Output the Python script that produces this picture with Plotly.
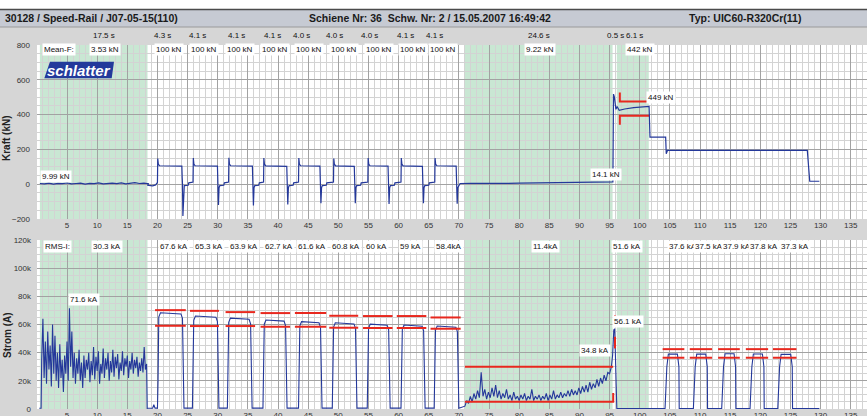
import plotly.graph_objects as go
import numpy as np

# ---------------- data ----------------
# Force trace (kN)
F_G1_START, F_G1_STEP = 0.5, 0.75
F_G1_VAL = [4, 2, 6, 1, 5, 3, 7, 2, 4, 6, 1, 5, 3, 8, 2, 4, 6, 3, 7, 2, 5, 9, 4, 6, 3]
F_RISE = [20.0, 25.9, 31.8, 37.6, 43.4, 49.2, 54.9, 60.4, 66.0]
F_FALL = [24.1, 30.0, 35.8, 41.5, 47.0, 52.7, 58.3, 64.0, 69.6]
F_HOLD = [104, 104, 104, 103, 104, 103, 104, 103, 104]
F_PEAK = [147, 150, 152, 150, 150, 148, 150, 150, 150]
F_DIP = [-183, -120, -123, -116, -110, -110, -114, -110, -112]
F_G2_T = [70.2, 72, 74, 76, 78, 80, 82, 84, 86, 88, 90, 92, 94, 95.45]
F_G2_V = [4, 5, 4, 6, 5, 6, 7, 6, 8, 9, 10, 11, 12, 13]
F_END_T = [95.55, 95.65, 95.8, 96.05, 96.25, 96.6, 97.5, 99.0, 101.55, 101.7, 104.3, 104.4, 104.6, 127.8, 128.0, 128.2, 129.8]
F_END_V = [13, 518, 500, 430, 446, 424, 432, 440, 447, 270, 270, 175, 194, 194, 100, 17, 17]
F_RED_X = [96.7, 101.7]
F_RED_HI, F_RED_LO = 476, 394
F_RED_TICK_HI, F_RED_TICK_LO = 527, 341

# Current trace (kA)
I_G1_START, I_G1_STEP = 0.8, 0.2
I_G1_VAL = [35, 64, 22, 48, 18, 55, 28, 45, 16, 60, 25, 52, 20, 40, 15, 46, 22, 35, 12, 38,
            25, 48, 20, 71.6, 30, 55, 22, 40, 18, 36, 25, 42, 20, 33, 15, 38, 22, 35, 28, 40,
            19, 34, 24, 44, 21, 37, 27, 41, 18, 32, 25, 43, 22, 36, 28, 40, 20, 34, 26, 42,
            23, 37, 29, 39, 21, 33, 27, 41, 24, 36, 30, 38, 22, 34, 28, 40, 25, 35, 29, 37,
            23, 33, 27, 36, 26, 44, 28, 32]
I_PULSE_ON = [20.1, 25.9, 31.7, 37.6, 43.5, 49.1, 54.9, 60.5, 66.0]
I_PULSE_OFF = [24.3, 30.1, 35.6, 41.4, 47.2, 53.0, 58.5, 64.3, 69.9]
I_PULSE_LVL = [68.3, 66.0, 64.5, 63.2, 62.0, 61.2, 60.3, 59.6, 58.9]
I_RED_X0 = [19.6, 25.4, 31.3, 37.1, 42.8, 48.5, 54.1, 59.7, 65.3]
I_RED_X1 = [24.7, 30.2, 36.2, 42.0, 48.0, 53.3, 59.0, 64.6, 70.3]
I_RED_HI = [70.2, 69.7, 68.8, 68.1, 68.1, 66.2, 66.0, 66.0, 65.0]
I_RED_LO = [59.1, 58.9, 58.9, 58.4, 58.4, 57.7, 57.5, 57.5, 57.0]
I_G2_START, I_G2_STEP = 71.0, 0.3
I_G2_VAL = [2, 6, 4, 9, 5, 11, 7, 13, 8, 26, 9, 14, 7, 12, 8, 15, 9, 17, 8, 13,
            7, 11, 8, 14, 7, 10, 6, 12, 7, 9, 6, 10, 7, 11, 6, 9, 7, 14, 6, 9,
            7, 10, 6, 9, 7, 11, 6, 10, 7, 13, 7, 10, 8, 12, 8, 11, 9, 13, 9, 14,
            10, 13, 10, 15, 11, 16, 12, 17, 12, 19, 14, 18, 15, 21, 16, 22, 18, 24,
            20, 26, 25, 30]
I_SPIKE_T = [95.5, 95.7, 95.85, 96.0, 96.2]
I_SPIKE_V = [38, 56.1, 57, 30, 0.4]
I_P2_ON = [104.5, 109.2, 113.9, 118.6, 123.2]
I_P2_OFF = [106.5, 111.2, 115.9, 120.6, 125.3]
I_P2_LVL = [39.0, 39.0, 39.2, 39.1, 38.8]
I_P2_RED_X0 = [103.8, 108.3, 113.0, 117.6, 122.1]
I_P2_RED_X1 = [107.4, 112.0, 116.6, 121.3, 126.0]
I_P2_RED_HI, I_P2_RED_LO = 42.5, 36.4
I_G2_RED_X = [71.0, 95.6]
I_G2_RED_HI, I_G2_RED_LO, I_G2_RED_TICK = 30.0, 5.2, 11.3
I_SP_RED_X = 95.9
I_SP_RED_SEG = [(60.3, 66.7), (43.0, 51.3)]
I_END_T = 129.8

GREEN_ZONES = [(0.5, 18.35), (71.0, 95.5), (96.2, 101.5)]

TIME_LBL_X = [11.1, 20.8, 26.7, 33.1, 39.1, 43.9, 49.4, 55.2, 61.2, 66.0, 83.3, 96.0, 99.2]
TIME_LBL = ["17.5 s", "4.3 s", "4.1 s", "4.1 s", "4.1 s", "4.0 s", "4.0 s", "4.0 s", "4.1 s", "4.1 s", "24.6 s", "0.5 s", "6.1 s"]
MEANF_X = [11.3, 21.9, 27.8, 33.7, 39.5, 45.2, 50.9, 56.7, 62.4, 67.4, 83.4, 100.1]
MEANF_LBL = ["3.53 kN"] + ["100 kN"] * 9 + ["9.22 kN", "442 kN"]
RMS_X = [11.6, 22.7, 28.5, 34.3, 40.2, 45.6, 51.3, 56.4, 61.9, 68.4, 84.3, 97.9, 107.1, 111.5, 116.2, 120.6, 125.7]
RMS_LBL = ["30.3 kA", "67.6 kA", "65.3 kA", "63.9 kA", "62.7 kA", "61.6 kA", "60.8 kA", "60 kA", "59 kA",
           "58.4kA", "11.4kA", "51.6 kA", "37.6 kA", "37.5 kA", "37.9 kA", "37.8 kA", "37.3 kA"]

# ---------------- styling ----------------
W, H = 867, 416
FONT = "Liberation Sans"
BLUE = "#24389a"
RED = "#e8281e"
GREEN = "#c9e7d3"
PAPER = "#d6d6d6"

def px(x):
    return x / W

def py(y):
    return 1 - y / H

# ---------------- build force line ----------------
fx = [F_G1_START + i * F_G1_STEP for i in range(len(F_G1_VAL))]
fy = list(F_G1_VAL)
fx += [18.4, 19.2, 19.7, 19.95]
fy += [-6, -9, -4, 8]
for i, (r, f) in enumerate(zip(F_RISE, F_FALL)):
    nxt = F_RISE[i + 1] if i + 1 < len(F_RISE) else None
    fx += [r, r + 0.05, r + 0.15, r + 0.35, f - 0.05, f, f + 0.05, f + 0.12, f + 0.22, f + 0.35]
    fy += [10, F_PEAK[i], 115, F_HOLD[i] + 2, F_HOLD[i], 40, 5, F_DIP[i], -20, -8]
    if nxt is not None:
        fx += [f + 1.0, f + 1.1, nxt - 0.05]
        fy += [-6, 8, 12]
fx += F_G2_T + F_END_T
fy += F_G2_V + F_END_V

f_rx = [F_RED_X[0], F_RED_X[0], F_RED_X[1], None, F_RED_X[0], F_RED_X[0], F_RED_X[1]]
f_ry = [F_RED_TICK_HI, F_RED_HI, F_RED_HI, None, F_RED_TICK_LO, F_RED_LO, F_RED_LO]

# ---------------- build current line (kA) ----------------
ix = [0.4, 0.7]
iy = [0.5, 0.5]
ix += [I_G1_START + i * I_G1_STEP for i in range(len(I_G1_VAL))]
iy += list(I_G1_VAL)
ix += [18.3, 18.4, 19.2, 19.4, 19.6]
iy += [0.4, 0.5, 0.6, 3.0, 0.6]
for on, off, lv in zip(I_PULSE_ON, I_PULSE_OFF, I_PULSE_LVL):
    ix += [on - 0.1, on, on + 0.12, on + 0.4, (on + off) / 2, off - 0.4, off - 0.15, off, off + 0.1]
    iy += [0.6, 20, lv - 3, lv, lv - 0.3, lv - 0.8, lv - 4, 20, 0.6]
ix += [I_G2_START + i * I_G2_STEP for i in range(len(I_G2_VAL))]
iy += list(I_G2_VAL)
ix += I_SPIKE_T
iy += I_SPIKE_V
for on, off, lv in zip(I_P2_ON, I_P2_OFF, I_P2_LVL):
    ix += [on - 0.3, on, on + 0.25, off - 0.25, off, off + 0.05]
    iy += [0.4, 30, lv, lv, 30, 0.4]
ix += [I_END_T]
iy += [0.4]
iy = [v * 1000 if v is not None else None for v in iy]

i_rx, i_ry = [], []
for x0, x1, hi, lo in zip(I_RED_X0, I_RED_X1, I_RED_HI, I_RED_LO):
    i_rx += [x0, x1, None, x0, x1, None]
    i_ry += [hi, hi, None, lo, lo, None]
for x0, x1 in zip(I_P2_RED_X0, I_P2_RED_X1):
    i_rx += [x0, x1, None, x0, x1, None]
    i_ry += [I_P2_RED_HI, I_P2_RED_HI, None, I_P2_RED_LO, I_P2_RED_LO, None]
i_rx += [I_G2_RED_X[0], I_G2_RED_X[1], None, I_G2_RED_X[0], I_G2_RED_X[1], I_G2_RED_X[1], None]
i_ry += [I_G2_RED_HI, I_G2_RED_HI, None, I_G2_RED_LO, I_G2_RED_LO, I_G2_RED_TICK, None]
for a, b in I_SP_RED_SEG:
    i_rx += [I_SP_RED_X, I_SP_RED_X, None]
    i_ry += [a, b, None]
i_ry = [v * 1000 if v is not None else None for v in i_ry]

# ---------------- figure ----------------
fig = go.Figure()
fig.add_trace(go.Scatter(x=f_rx, y=f_ry, mode="lines", line=dict(color=RED, width=2),
                         xaxis="x", yaxis="y", hoverinfo="skip", showlegend=False))
fig.add_trace(go.Scatter(x=fx, y=fy, mode="lines", line=dict(color=BLUE, width=1.2),
                         xaxis="x", yaxis="y", hoverinfo="skip", showlegend=False))
fig.add_trace(go.Scatter(x=ix, y=iy, mode="lines", line=dict(color=BLUE, width=1.1),
                         xaxis="x2", yaxis="y2", hoverinfo="skip", showlegend=False))
fig.add_trace(go.Scatter(x=i_rx, y=i_ry, mode="lines", line=dict(color=RED, width=2),
                         xaxis="x2", yaxis="y2", hoverinfo="skip", showlegend=False))

tickfont = dict(size=8, color="#333333", family=FONT)
xcommon = dict(domain=[px(37), 1], range=[0.02, 137.7], tickmode="linear", tick0=0, dtick=5,
               showgrid=True, gridcolor="#a2a2a2", gridwidth=1,
               minor=dict(tick0=0, dtick=1, showgrid=True, gridcolor="#d3d3d3", gridwidth=1),
               zeroline=False, showline=False, ticks="", tickfont=tickfont, fixedrange=True,
               automargin=False)

fig.update_layout(
    width=W, height=H,
    margin=dict(l=0, r=0, t=0, b=0, autoexpand=False),
    paper_bgcolor=PAPER, plot_bgcolor="white",
    font=dict(family=FONT, size=8, color="#222"),
    xaxis=dict(xcommon, anchor="y"),
    xaxis2=dict(xcommon, anchor="y2"),
    yaxis=dict(domain=[py(219), py(45)], range=[-200, 800], tickmode="linear", tick0=0, dtick=200,
               showgrid=True, gridcolor="#a2a2a2", gridwidth=1,
               minor=dict(tick0=0, dtick=50, showgrid=True, gridcolor="#d3d3d3", gridwidth=1),
               zeroline=False, showline=False, ticks="", tickfont=tickfont, anchor="x",
               ticklabelstandoff=6, automargin=False),
    yaxis2=dict(domain=[py(409), py(240)], range=[0, 120000], tickmode="linear", tick0=0, dtick=20000,
                tickformat="~s",
                showgrid=True, gridcolor="#a2a2a2", gridwidth=1,
                minor=dict(tick0=0, dtick=5000, showgrid=True, gridcolor="#d3d3d3", gridwidth=1),
                zeroline=False, showline=False, ticks="", tickfont=tickfont, anchor="x2",
                ticklabelstandoff=5, automargin=False),
)

shapes = []
for x0, x1 in GREEN_ZONES:
    shapes.append(dict(type="rect", xref="x", yref="y domain", x0=x0, x1=x1, y0=0, y1=1,
                       fillcolor=GREEN, line=dict(width=0), layer="below"))
    shapes.append(dict(type="rect", xref="x2", yref="y2 domain", x0=x0, x1=x1, y0=0, y1=1,
                       fillcolor=GREEN, line=dict(width=0), layer="below"))
# white strip and title bar
shapes.append(dict(type="rect", xref="paper", yref="paper", x0=0, x1=1, y0=py(9), y1=1,
                   fillcolor="white", line=dict(width=0), layer="below"))
shapes.append(dict(type="rect", xref="paper", yref="paper", x0=0, x1=1, y0=py(27), y1=py(9),
                   fillcolor="#c6cad3", line=dict(width=0), layer="below"))
shapes.append(dict(type="line", xref="paper", yref="paper", x0=0, x1=1, y0=py(9.5), y1=py(9.5),
                   line=dict(color="#4a4a4a", width=1.5), layer="above"))
shapes.append(dict(type="line", xref="paper", yref="paper", x0=0, x1=1, y0=py(27), y1=py(27),
                   line=dict(color="#9a9a9a", width=1), layer="above"))
# schlatter logo
logo = [(50, 61.7), (114, 61.7), (111.7, 78.3), (44.3, 78.3)]
path = "M " + " L ".join(f"{px(a):.5f},{py(b):.5f}" for a, b in logo) + " Z"
shapes.append(dict(type="path", xref="paper", yref="paper", path=path,
                   fillcolor="#23399b", line=dict(width=0), layer="above"))
fig.update_layout(shapes=shapes)

ann = []
hdr = dict(size=10.5, color="#1a1a1a", family=FONT, weight="bold")
ann.append(dict(xref="paper", yref="paper", x=px(3), y=py(18), text="30128 / Speed-Rail / J07-05-15(110)",
                showarrow=False, xanchor="left", yanchor="middle", font=hdr))
ann.append(dict(xref="paper", yref="paper", x=px(307), y=py(18),
                text="Schiene Nr: 36  Schw. Nr: 2 / 15.05.2007 16:49:42",
                showarrow=False, xanchor="left", yanchor="middle", font=hdr))
ann.append(dict(xref="paper", yref="paper", x=px(687), y=py(18), text="Typ: UIC60-R320Cr(11)",
                showarrow=False, xanchor="left", yanchor="middle", font=hdr))
ann.append(dict(xref="paper", yref="paper", x=px(79), y=py(70), text="schlatter", showarrow=False,
                xanchor="center", yanchor="middle",
                font=dict(size=15, color="white", family=FONT, weight="bold", style="italic")))
ax_title = dict(size=10, color="#222", family=FONT, weight="bold")
ann.append(dict(xref="paper", yref="paper", x=px(7), y=py(138), text="Kraft (kN)", textangle=-90,
                showarrow=False, xanchor="center", yanchor="middle", font=ax_title))
ann.append(dict(xref="paper", yref="paper", x=px(7), y=py(335), text="Strom (A)", textangle=-90,
                showarrow=False, xanchor="center", yanchor="middle", font=ax_title))

small = dict(size=8, color="#111", family=FONT)
for x, t in zip(TIME_LBL_X, TIME_LBL):
    ann.append(dict(xref="x", yref="paper", x=x, y=py(35), text=t, showarrow=False,
                    xanchor="center", yanchor="middle", font=small))
ann.append(dict(xref="x", yref="y", x=0.8, y=772, text="Mean-F:", showarrow=False, xanchor="left",
                yanchor="middle", font=small, bgcolor="white", borderpad=1))
for x, t in zip(MEANF_X, MEANF_LBL):
    ann.append(dict(xref="x", yref="y", x=x, y=772, text=t, showarrow=False, xanchor="center",
                    yanchor="middle", font=small, bgcolor="white", borderpad=1))
ann.append(dict(xref="x2", yref="y2", x=0.95, y=115500, text="RMS-I:", showarrow=False, xanchor="left",
                yanchor="middle", font=small, bgcolor="white", borderpad=1))
for x, t in zip(RMS_X, RMS_LBL):
    ann.append(dict(xref="x2", yref="y2", x=x, y=115500, text=t, showarrow=False, xanchor="center",
                    yanchor="middle", font=small, bgcolor="white", borderpad=1))
# value labels
for xr, yr, x, y, t, anc in [("x", "y", 0.5, 46, "9.99 kN", "left"),
                             ("x", "y", 94.4, 58, "14.1 kN", "center"),
                             ("x", "y", 103.5, 500, "449 kN", "center"),
                             ("x2", "y2", 7.8, 78000, "71.6 kA", "center"),
                             ("x2", "y2", 92.5, 41300, "34.8 kA", "center"),
                             ("x2", "y2", 98.1, 62000, "56.1 kA", "center")]:
    ann.append(dict(xref=xr, yref=yr, x=x, y=y, text=t, showarrow=False, xanchor=anc,
                    yanchor="middle", font=small, bgcolor="white", borderpad=1))
fig.update_layout(annotations=ann)

fig.write_html("out.html", config={"displayModeBar": False},
               post_script="document.body.style.margin='0';document.body.style.padding='0';"
                           "document.documentElement.style.overflow='hidden';")
